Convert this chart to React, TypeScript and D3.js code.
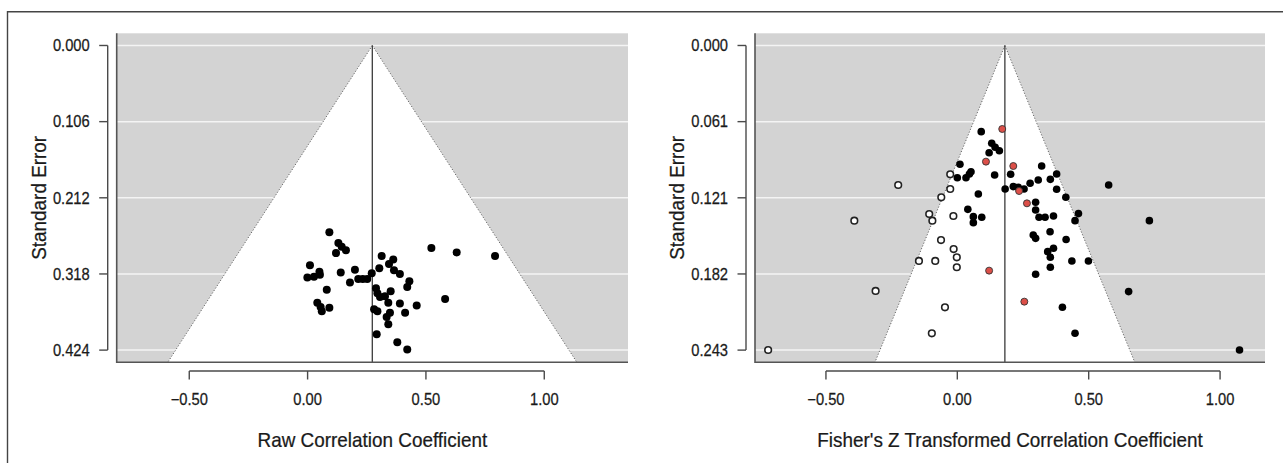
import React from "react";
import * as d3 from "d3";

// ---------- data ----------
// Left panel: raw correlation coefficients and their standard errors
const rawR = [0.092,0.130,0.144,0.162,0.120,0.523,0.630,0.792,0.010,-0.001,0.027,0.050,0.052,0.140,0.200,0.179,0.214,0.233,0.252,0.271,0.081,0.041,0.060,0.092,0.055,0.313,0.362,0.344,0.303,0.365,0.390,0.430,0.421,0.289,0.295,0.306,0.327,0.351,0.341,0.390,0.461,0.581,0.281,0.295,0.348,0.334,0.412,0.341,0.292,0.379,0.421];
const rawSE = [0.260,0.275,0.280,0.285,0.289,0.282,0.288,0.293,0.306,0.323,0.322,0.315,0.319,0.316,0.312,0.330,0.325,0.325,0.325,0.317,0.340,0.358,0.370,0.365,0.364,0.293,0.298,0.304,0.310,0.313,0.318,0.328,0.336,0.338,0.345,0.350,0.349,0.342,0.358,0.359,0.362,0.353,0.367,0.370,0.372,0.378,0.372,0.388,0.402,0.413,0.423];
const rawEstimate = 0.2734;
const rawMaxSE = 0.424;
const rawXDomain = [-0.8066, 1.3538];
const rawYTicks = ["0.000", "0.106", "0.212", "0.318", "0.424"];

// Right panel: Fisher's Z, observed (black), highlighted (red), filled (open)
const obsZ = [0.091,0.131,0.144,0.121,0.160,0.010,0.321,0.000,0.033,0.046,0.052,0.142,0.203,0.378,0.354,0.308,0.277,0.182,0.213,0.232,0.254,0.080,0.378,0.413,0.298,0.298,0.040,0.061,0.061,0.093,0.311,0.334,0.366,0.448,0.461,0.353,0.289,0.414,0.576,0.298,0.344,0.366,0.354,0.354,0.436,0.499,0.298,0.400,0.448,0.731,0.652,1.074];
const obsSE = [0.0686,0.0779,0.0811,0.0854,0.0838,0.0946,0.0960,0.1053,0.1053,0.1023,0.1005,0.1031,0.1026,0.1023,0.1066,0.1071,0.1097,0.1143,0.1124,0.1129,0.1143,0.1183,0.1145,0.1209,0.1249,0.1310,0.1305,0.1363,0.1411,0.1368,0.1368,0.1368,0.1358,0.1395,0.1339,0.1483,0.1509,0.1545,0.1111,0.1536,0.1642,0.1615,0.1687,0.1766,0.1716,0.1716,0.1822,0.2085,0.2292,0.1395,0.1960,0.2425];
const redZ = [0.171,0.109,0.213,0.235,0.265,0.121,0.255];
const redSE = [0.0665,0.0925,0.0960,0.1159,0.1257,0.1793,0.2040];
const fillZ = [-0.027,-0.027,-0.061,-0.107,-0.095,-0.015,-0.062,-0.225,-0.014,-0.002,-0.146,-0.084,-0.002,-0.311,-0.047,-0.097,-0.392,-0.720];
const fillSE = [0.1026,0.1143,0.1209,0.1342,0.1395,0.1358,0.1550,0.1111,0.1621,0.1687,0.1716,0.1716,0.1766,0.1955,0.2085,0.2292,0.1395,0.2425];
const zEstimate = 0.181;
const zMaxSE = 0.2426;
const zXDomain = [-0.770, 1.171];
const zYTicks = ["0.000", "0.061", "0.121", "0.182", "0.243"];

const xTicks = [-0.5, 0, 0.5, 1.0];
const xTickLabels = ["\u22120.50", "0.00", "0.50", "1.00"];

const FONT = "'Liberation Sans', Arial, Helvetica, sans-serif";

function Txt({ x, y, size, anchor = "middle", rotate = 0, sx = 0.92, children }: any) {
  return (
    <g transform={`translate(${x},${y}) rotate(${rotate}) scale(${sx},1)`}>
      <text
        x={0}
        y={0}
        fontSize={size}
        fontFamily={FONT}
        textAnchor={anchor}
        dominantBaseline="central"
        fill="#1a1a1a"
        stroke="#1a1a1a"
        strokeWidth={0.25}
      >
        {children}
      </text>
    </g>
  );
}

type Pt = { x: number; se: number };

function Panel({
  left,
  right,
  xDomain,
  maxSE,
  estimate,
  yTicks,
  xLabel,
  layers,
}: {
  left: number;
  right: number;
  xDomain: number[];
  maxSE: number;
  estimate: number;
  yTicks: string[];
  xLabel: string;
  layers: { pts: Pt[]; fill: string; r: number; stroke: string; sw: number }[];
}) {
  const top = 33.3;
  const bottom = 362.3;
  const x = d3.scaleLinear().domain(xDomain).range([left, right]);
  const y = d3.scaleLinear().domain([-0.04 * maxSE, 1.04 * maxSE]).range([top, bottom]);
  const tickVals = yTicks.map((_, i) => (maxSE * i) / 4);
  const bot = 1.04 * maxSE;
  const funnel = [
    [x(estimate), y(0)],
    [x(estimate - 1.96 * bot), y(bot)],
    [x(estimate + 1.96 * bot), y(bot)],
  ];
  const yAxisX = left - 9;
  const xAxisY = 371;
  const tl = 8.5;
  const axisCol = "#4a4a4a";
  return (
    <g>
      <rect x={left} y={top} width={right - left} height={bottom - top} fill="#d3d3d3" />
      {tickVals.map((v, i) => (
        <line key={"g" + i} x1={left} x2={right} y1={y(v)} y2={y(v)} stroke="#f4f4f4" strokeWidth={1.5} />
      ))}
      <polygon points={funnel.map((p) => p.join(",")).join(" ")} fill="#ffffff" />
      <line x1={funnel[0][0]} y1={funnel[0][1]} x2={funnel[1][0]} y2={funnel[1][1]} stroke="#666" strokeWidth={1} strokeDasharray="1.2,1.8" />
      <line x1={funnel[0][0]} y1={funnel[0][1]} x2={funnel[2][0]} y2={funnel[2][1]} stroke="#666" strokeWidth={1} strokeDasharray="1.2,1.8" />
      <line x1={x(estimate)} x2={x(estimate)} y1={y(0)} y2={bottom} stroke="#3a3a3a" strokeWidth={1.3} />
      {/* L-shaped box */}
      <path d={`M${left},${top} L${left},${bottom} L${right},${bottom}`} fill="none" stroke="#555" strokeWidth={1.6} />
      {layers.map((L, li) =>
        L.pts.map((p, i) => (
          <circle key={li + "-" + i} cx={x(p.x)} cy={y(p.se)} r={L.r} fill={L.fill} stroke={L.stroke} strokeWidth={L.sw} />
        ))
      )}
      {/* y axis */}
      <line x1={yAxisX} x2={yAxisX} y1={y(tickVals[0])} y2={y(tickVals[tickVals.length - 1])} stroke={axisCol} strokeWidth={1.4} />
      {tickVals.map((v, i) => (
        <g key={"yt" + i}>
          <line x1={yAxisX - tl} x2={yAxisX} y1={y(v)} y2={y(v)} stroke={axisCol} strokeWidth={1.4} />
          <Txt x={yAxisX - 18} y={y(v)} size={16} anchor="end">
            {yTicks[i]}
          </Txt>
        </g>
      ))}
      {/* x axis */}
      <line x1={x(xTicks[0])} x2={x(xTicks[xTicks.length - 1])} y1={xAxisY} y2={xAxisY} stroke={axisCol} strokeWidth={1.4} />
      {xTicks.map((v, i) => (
        <g key={"xt" + i}>
          <line x1={x(v)} x2={x(v)} y1={xAxisY} y2={xAxisY + tl} stroke={axisCol} strokeWidth={1.4} />
          <Txt x={x(v)} y={399.5} size={16}>
            {xTickLabels[i]}
          </Txt>
        </g>
      ))}
      <Txt x={(left + right) / 2} y={439.5} size={21} sx={0.9}>
        {xLabel}
      </Txt>
      <Txt x={yAxisX - 69} y={(top + bottom) / 2} size={21} sx={0.9} rotate={-90}>
        Standard Error
      </Txt>
    </g>
  );
}

export default function App() {
  const rawPts = rawR.map((v, i) => ({ x: v, se: rawSE[i] }));
  const obsPts = obsZ.map((v, i) => ({ x: v, se: obsSE[i] }));
  const redPts = redZ.map((v, i) => ({ x: v, se: redSE[i] }));
  const fillPts = fillZ.map((v, i) => ({ x: v, se: fillSE[i] }));
  return (
    <svg
      width={1283}
      height={463}
      style={{ position: "absolute", left: 0, top: 0, background: "#fff" }}
    >
      <rect x={0} y={0} width={1283} height={463} fill="#ffffff" />
      <path d="M7.5,470 L7.5,11.8 L1290,11.8" fill="none" stroke="#444" strokeWidth={1.4} />
      <Panel
        left={116.7}
        right={628}
        xDomain={rawXDomain}
        maxSE={rawMaxSE}
        estimate={rawEstimate}
        yTicks={rawYTicks}
        xLabel="Raw Correlation Coefficient"
        layers={[{ pts: rawPts, fill: "#000", r: 4.0, stroke: "#000", sw: 0 }]}
      />
      <Panel
        left={755}
        right={1265}
        xDomain={zXDomain}
        maxSE={zMaxSE}
        estimate={zEstimate}
        yTicks={zYTicks}
        xLabel="Fisher's Z Transformed Correlation Coefficient"
        layers={[
          { pts: obsPts, fill: "#000", r: 3.8, stroke: "#000", sw: 0 },
          { pts: redPts, fill: "#dc4f48", r: 3.5, stroke: "#333", sw: 0.9 },
          { pts: fillPts, fill: "#fff", r: 3.3, stroke: "#222", sw: 1.6 },
        ]}
      />
    </svg>
  );
}
